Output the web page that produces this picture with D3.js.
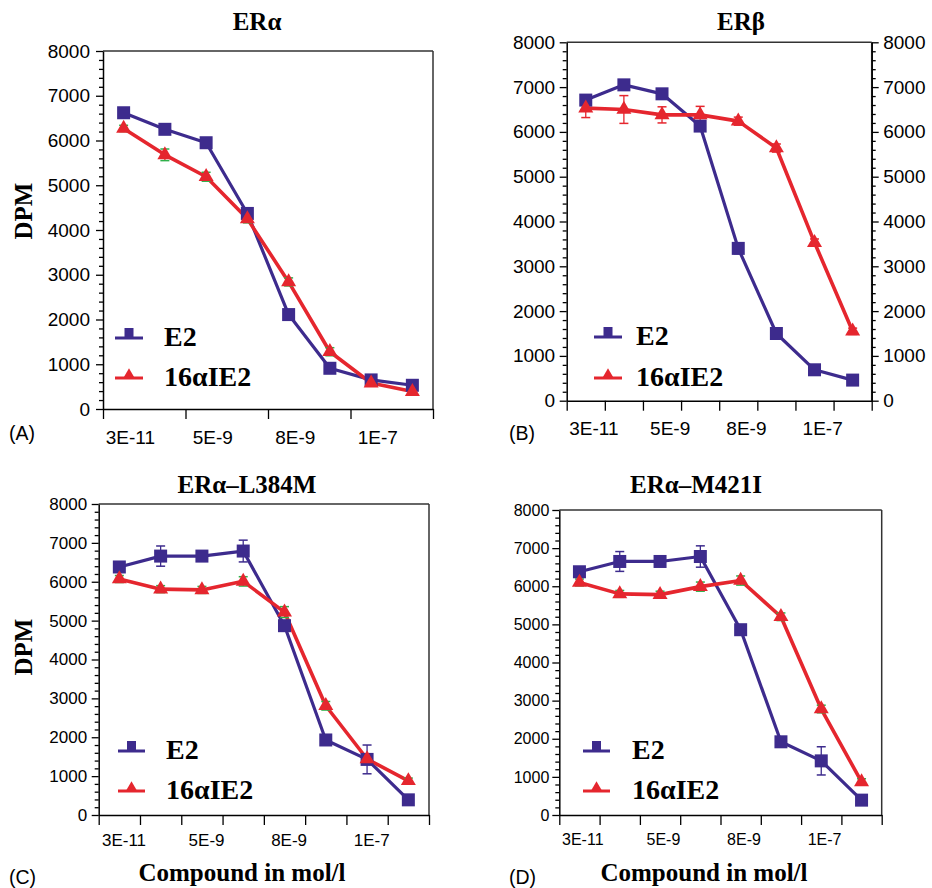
<!DOCTYPE html>
<html>
<head>
<meta charset="utf-8">
<script src="https://cdn.jsdelivr.net/npm/d3@7"></script>
<style>
body { margin: 0; background: #fff; }
svg { display: block; }
</style>
</head>
<body>
<script>
// ---------- DATA ----------
const seriesNames = ["E2", "16αIE2"];
const xTickLabels = ["3E-11", "5E-9", "8E-9", "1E-7"];
const yTickValues = [0, 1000, 2000, 3000, 4000, 5000, 6000, 7000, 8000];
const panelTitles = ["ERα", "ERβ", "ERα–L384M", "ERα–M421I"];
const panelLetters = ["(A)", "(B)", "(C)", "(D)"];
const yAxisTitle = "DPM";
const xAxisTitle = "Compound in mol/l";

// Panel A: ERα
const eraE2      = [6620, 6250, 5950, 4370, 2110, 910, 650, 530];
const eraE2Err   = [80, 80, 80, 60, 80, 60, 40, 40];
const eraIE2     = [6270, 5680, 5190, 4250, 2840, 1280, 580, 390];
const eraIE2Err  = [70, 130, 100, 90, 90, 90, 50, 60];
// Panel B: ERβ
const erbE2      = [6710, 7050, 6850, 6130, 3400, 1500, 690, 460];
const erbE2Err   = [100, 90, 80, 80, 120, 100, 80, 60];
const erbIE2     = [6530, 6500, 6380, 6380, 6240, 5640, 3530, 1550];
const erbIE2Err  = [210, 310, 180, 190, 90, 90, 80, 70];
// Panel C: ERα–L384M
const l384E2     = [6380, 6660, 6660, 6790, 4870, 1930, 1430, 390];
const l384E2Err  = [80, 260, 90, 280, 100, 90, 370, 60];
const l384IE2    = [6070, 5810, 5790, 6010, 5220, 2810, 1440, 880];
const l384IE2Err = [90, 90, 90, 120, 140, 110, 60, 70];
// Panel D: ERα–M421I
const m421E2     = [6380, 6650, 6650, 6780, 4860, 1920, 1420, 390];
const m421E2Err  = [80, 260, 90, 280, 100, 90, 370, 60];
const m421IE2    = [6100, 5800, 5780, 5990, 6150, 5200, 2780, 870];
const m421IE2Err = [90, 90, 90, 120, 120, 100, 100, 80];

// ---------- STYLE / LAYOUT ----------
const BLUE = "#3d2b8d", RED = "#e5262e", GREEN = "#2fb04a";
const SANS = "'Liberation Sans', Arial, sans-serif";
const SERIF = "'Liberation Serif', 'Times New Roman', serif";

const layouts = [
  { x0: 103, x1: 433, yb: 409, yt: 51, xStep: 2, font: 19, labOff: 0.65, labPad: 22, yPad: 6,
    titleX: 257, titleY: 30, right: false, letterX: 9, letterY: 440, dpm: [32, 211], comp: null,
    leg: { lx0: 115, lx1: 143, y1: 338, y2: 378, tx: 164 }, cap2: GREEN },
  { x0: 566.7, x1: 871.7, yb: 400.7, yt: 42.3, xStep: 1, font: 19, labOff: 0.7, labPad: 21, yPad: 4.5,
    titleX: 741, titleY: 30, right: true, letterX: 509, letterY: 440, dpm: null, comp: null,
    leg: { lx0: 594, lx1: 622, y1: 337, y2: 378, tx: 636 }, cap2: RED },
  { x0: 98.7, x1: 429, yb: 815, yt: 504, xStep: 1, font: 17, labOff: 0.6, labPad: 19, yPad: 4.5,
    titleX: 247, titleY: 493, right: false, letterX: 9, letterY: 884, dpm: [32, 647], comp: [242, 881],
    leg: { lx0: 118, lx1: 145, y1: 751, y2: 791, tx: 166 }, cap2: GREEN },
  { x0: 559.3, x1: 881.7, yb: 815, yt: 510, xStep: 1, font: 16, labOff: 0.57, labPad: 19, yPad: 3,
    titleX: 696, titleY: 493, right: false, letterX: 509, letterY: 884, dpm: null, comp: [704, 881],
    leg: { lx0: 583, lx1: 610, y1: 751, y2: 791, tx: 632 }, cap2: GREEN }
];

const panelData = [
  [[eraE2, eraE2Err], [eraIE2, eraIE2Err]],
  [[erbE2, erbE2Err], [erbIE2, erbIE2Err]],
  [[l384E2, l384E2Err], [l384IE2, l384IE2Err]],
  [[m421E2, m421E2Err], [m421IE2, m421IE2Err]]
];

const svg = d3.select("body").append("svg").attr("width", 932).attr("height", 888);

function styleAxis(g, fontSize) {
  g.selectAll("path").attr("stroke", "#000").attr("stroke-width", 1.5);
  g.selectAll("line").attr("stroke", "#000").attr("stroke-width", 1.3);
  g.selectAll("text").attr("font-family", SANS).attr("font-size", fontSize).attr("fill", "#000");
}

layouts.forEach((L, pi) => {
  const g = svg.append("g");
  const x = d3.scaleLinear().domain([0, 8]).range([L.x0, L.x1]);
  const y = d3.scaleLinear().domain([0, 8000]).range([L.yb, L.yt]);

  // frame (top & right)
  g.append("line").attr("x1", L.x0).attr("x2", L.x1).attr("y1", L.yt).attr("y2", L.yt)
    .attr("stroke", "#333").attr("stroke-width", 1.5);
  g.append("line").attr("x1", L.x1).attr("x2", L.x1).attr("y1", L.yt).attr("y2", L.yb)
    .attr("stroke", "#333").attr("stroke-width", 1.5);

  // y axis left: minor then major
  const minorVals = d3.range(0, 8001, 200).filter(v => v % 1000 !== 0);
  const gyMinor = g.append("g").attr("transform", `translate(${L.x0},0)`)
    .call(d3.axisLeft(y).tickValues(minorVals).tickSize(4).tickSizeOuter(0).tickFormat(""));
  gyMinor.select("path").remove();
  styleAxis(gyMinor, L.font);
  const gy = g.append("g").attr("transform", `translate(${L.x0},0)`)
    .call(d3.axisLeft(y).tickValues(yTickValues).tickSize(7).tickSizeOuter(0).tickPadding(L.yPad).tickFormat(d3.format("d")));
  styleAxis(gy, L.font);

  if (L.right) {
    const gr1 = g.append("g").attr("transform", `translate(${L.x1},0)`)
      .call(d3.axisRight(y).tickValues(minorVals).tickSize(4).tickSizeOuter(0).tickFormat(""));
    gr1.select("path").remove();
    styleAxis(gr1, L.font);
    const gr = g.append("g").attr("transform", `translate(${L.x1},0)`)
      .call(d3.axisRight(y).tickValues(yTickValues).tickSize(7).tickSizeOuter(0).tickPadding(4.5).tickFormat(d3.format("d")));
    styleAxis(gr, L.font);
  }

  // x axis ticks
  const gx = g.append("g").attr("transform", `translate(0,${L.yb})`)
    .call(d3.axisBottom(x).tickValues(d3.range(0, 8.01, L.xStep)).tickSize(10).tickSizeOuter(0).tickFormat(""));
  styleAxis(gx, L.font);
  // x labels
  const gxl = g.append("g").attr("transform", `translate(0,${L.yb})`)
    .call(d3.axisBottom(x).tickValues(xTickLabels.map((d, i) => i * 2 + L.labOff))
      .tickSize(0).tickPadding(L.labPad).tickFormat((d, i) => xTickLabels[i]));
  gxl.select("path").remove();
  styleAxis(gxl, L.font);

  // series
  const colors = [BLUE, RED];
  const capColors = [BLUE, L.cap2];
  const widths = [3.2, 3.6];
  const line = d3.line().x((d, i) => x(i + 0.5)).y(d => y(d));
  const series = panelData[pi];

  series.forEach((s, si) => {
    g.append("path").datum(s[0]).attr("d", line).attr("fill", "none")
      .attr("stroke", colors[si]).attr("stroke-width", widths[si]).attr("stroke-linejoin", "round");
  });
  // error bars
  series.forEach((s, si) => {
    const vals = s[0], errs = s[1];
    vals.forEach((v, i) => {
      const cx = x(i + 0.5);
      g.append("line").attr("x1", cx).attr("x2", cx).attr("y1", y(v - errs[i])).attr("y2", y(v + errs[i]))
        .attr("stroke", colors[si]).attr("stroke-width", 1.3);
      [v - errs[i], v + errs[i]].forEach(e => {
        g.append("line").attr("x1", cx - 4.5).attr("x2", cx + 4.5).attr("y1", y(e)).attr("y2", y(e))
          .attr("stroke", capColors[si]).attr("stroke-width", 1.5);
      });
    });
  });
  // markers
  const sq = 13;
  series[0][0].forEach((v, i) => {
    g.append("rect").attr("x", x(i + 0.5) - sq / 2).attr("y", y(v) - sq / 2)
      .attr("width", sq).attr("height", sq).attr("fill", BLUE);
  });
  const tri = d3.symbol().type(d3.symbolTriangle).size(15 * 15 * Math.sqrt(3) / 4);
  series[1][0].forEach((v, i) => {
    g.append("path").attr("d", tri).attr("transform", `translate(${x(i + 0.5)},${y(v)})`).attr("fill", RED);
  });

  // legend
  const lg = L.leg;
  g.append("line").attr("x1", lg.lx0).attr("x2", lg.lx1).attr("y1", lg.y1).attr("y2", lg.y1)
    .attr("stroke", BLUE).attr("stroke-width", 3);
  g.append("rect").attr("x", (lg.lx0 + lg.lx1) / 2 - 4.5).attr("y", lg.y1 - 10).attr("width", 9).attr("height", 10).attr("fill", BLUE);
  g.append("line").attr("x1", lg.lx0).attr("x2", lg.lx1).attr("y1", lg.y2).attr("y2", lg.y2)
    .attr("stroke", RED).attr("stroke-width", 3);
  const ltri = d3.symbol().type(d3.symbolTriangle).size(11 * 11 * Math.sqrt(3) / 4);
  g.append("path").attr("d", ltri).attr("transform", `translate(${(lg.lx0 + lg.lx1) / 2},${lg.y2 - 3.5})`).attr("fill", RED);
  [lg.y1, lg.y2].forEach((ly, k) => {
    g.append("text").attr("x", lg.tx).attr("y", ly + 8).text(seriesNames[k])
      .attr("font-family", SERIF).attr("font-weight", "bold").attr("font-size", 28).attr("fill", "#000");
  });

  // title
  g.append("text").attr("x", L.titleX).attr("y", L.titleY).attr("text-anchor", "middle")
    .attr("font-family", SERIF).attr("font-weight", "bold").attr("font-size", 25).text(panelTitles[pi]);
  // letter
  g.append("text").attr("x", L.letterX).attr("y", L.letterY)
    .attr("font-family", SANS).attr("font-size", 19.5).text(panelLetters[pi]);
  if (L.dpm) {
    g.append("text").attr("transform", `translate(${L.dpm[0]},${L.dpm[1]}) rotate(-90)`).attr("text-anchor", "middle")
      .attr("font-family", SERIF).attr("font-weight", "bold").attr("font-size", 25).text(yAxisTitle);
  }
  if (L.comp) {
    g.append("text").attr("x", L.comp[0]).attr("y", L.comp[1]).attr("text-anchor", "middle")
      .attr("font-family", SERIF).attr("font-weight", "bold").attr("font-size", 25).text(xAxisTitle);
  }
});
</script>
</body>
</html>
